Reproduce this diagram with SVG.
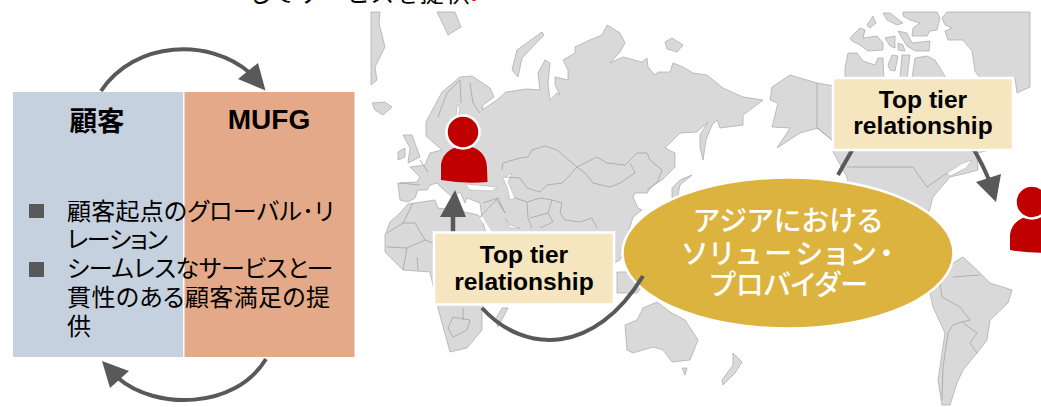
<svg xmlns="http://www.w3.org/2000/svg" width="1041" height="407" viewBox="0 0 1041 407">
<style>
text{font-family:"Liberation Sans","Noto Sans CJK JP",sans-serif}
.land{fill:#d9d9d9;stroke:#a6a6a6;stroke-width:.7;stroke-linejoin:round}
.sea{fill:#fff;stroke:#a6a6a6;stroke-width:.5}
.border{fill:none;stroke:#a3a3a3;stroke-width:.8;stroke-linejoin:round}
.conn{fill:none;stroke:#595959;stroke-width:4}
.head{fill:#595959}
.callout{fill:#f5e6c0;stroke:#fff;stroke-width:2.5}
.ct{font-size:24.6px;font-weight:700;text-anchor:middle;fill:#000}
.jp{font-size:24px;fill:#000;font-feature-settings:"palt"}
.et{font-size:28px;font-weight:500;fill:#fff;text-anchor:middle;font-feature-settings:"palt"}
.bul{fill:#595959}
</style>
<defs>
<g id="person"><path d="M441,180V167C441,154 452,146 464,146C477,146 487,154 487,168L487.500,182Q464,184 441,180Z" fill="#c00000"/><circle cx="463" cy="132" r="16.500" fill="#c00000" stroke="#fff" stroke-width="2.500"/></g>
</defs>
<text id="title" x="250" y="2" class="jp" textLength="220">してサービスを提供</text>
<text x="471" y="1" font-size="22" fill="#ff0000" font-weight="700">.</text>
<g id="map">
<path class="land" d="M398,185 398,183 417,182 420,177 410,167 425,165 430,153 442,150 434,143 426,136 426,122 442,92 460,77 472,76 490,88 494,97 483,105 482,110 497,100 506,92 527,89 540,90 538,73 545,60 550,63 548,83 550,100 557,93 560,95 555,85 555,77 568,80 568,70 563,60 575,53 575,47 590,40 602,35 607,25 620,33 625,43 620,52 610,63 623,57 642,62 647,58 648,67 655,75 658,72 670,72 673,63 683,67 693,73 707,75 723,88 743,97 763,100 750,110 743,115 743,125 720,128 717,120 712,125 706,140 703,160 700,147 700,135 708,122 697,132 680,133 665,148 675,153 675,167 662,180 653,185 647,193 635,193 633,197 638,208 642,210 633,217 628,233 625,250 620,260 600,270 500,250 490,232 482,218 480,203 467,198 465,203 460,192 452,197 442,188 437,183 430,185 427,190 418,190 415,198 408,202 400,200Z"/>
<path class="land" d="M408,204 400,213 390,222 385,235 385,252 403,270 430,272 438,308 442,323 450,352 467,348 482,330 482,308 490,290 500,270 488,240 482,219 478,215 460,211 438,208 435,200Z"/>
<path class="land" d="M498,327 508,308 502,308 495,320Z"/>
<path class="land" d="M617,272 630,272 637,280 642,287 637,293 617,293Z"/>
<path class="land" d="M625,325 637,320 643,308 657,302 670,312 685,320 698,340 690,360 672,362 663,350 653,347 633,353 627,350Z"/>
<path class="land" d="M682,368 687,368 685,375Z"/>
<path class="land" d="M733,353 742,362 735,373 723,385 722,380 733,365Z"/>
<path class="land" d="M672,198 672,188 680,180 692,175 680,185 677,200Z"/>
<path class="land" d="M371,12 380,12 379,23 385,47 375,67 377,80 371,85Z"/>
<path class="land" d="M437,12 455,12 461,27 448,35 442,22Z"/>
<path class="land" d="M372,103 385,102 392,107 383,115 375,110Z"/>
<path class="land" d="M403,135 412,135 420,157 408,163 410,148Z"/>
<path class="land" d="M398,152 405,148 405,157 398,160Z"/>
<path class="land" d="M542,32 544,35 522,58 518,77 512,70 517,50Z"/>
<path class="land" d="M665,42 672,38 683,45 677,52 667,49Z"/>
<path class="land" d="M772,87 790,75 817,83 840,87 840,150 832,140 818,128 800,133 777,148 790,128 772,127 778,103 770,100Z"/>
<path class="land" d="M832,150 990,150 977,153 978,170 967,173 950,177 933,197 930,208 920,240 860,240 847,177Z"/>
<path class="sea" d="M947,173 963,163 972,160 966,168 950,176Z"/>
<path class="land" d="M930,293 940,283 953,263 963,257 977,270 990,283 1012,290 1008,303 990,320 987,340 977,353 963,370 957,383 950,405 942,405 938,380 945,333 933,307Z"/>
<path class="land" d="M975,71 980,78 1015,78 1017,93 1030,87 1030,12 947,12 942,18 945,25 952,28 945,31 948,40 963,40 972,51Z"/>
<path class="land" d="M850,38 860,28 865,30 863,38 877,36 883,43 883,50 868,51 860,45 852,41Z"/>
<path class="land" d="M867,25 873,16 876,23 870,28Z"/>
<path class="land" d="M883,13 890,13 903,23 897,25 887,20Z"/>
<path class="land" d="M885,38 895,36 895,48 890,46Z"/>
<path class="land" d="M898,31 907,33 912,43 930,41 929,51 915,51 907,46 902,38Z"/>
<path class="land" d="M898,43 903,45 905,51 898,50Z"/>
<path class="land" d="M903,12 937,12 940,18 937,30 930,31 927,36 912,36 913,28 920,23 910,20 903,16Z"/>
<path class="land" d="M845,68 848,53 857,53 863,61 875,65 878,58 883,58 884,82 845,82Z"/>
<path class="land" d="M888,65 892,55 898,56 895,71 890,70Z"/>
<path class="land" d="M900,78 902,55 910,55 907,78Z"/>
<path class="land" d="M912,78 915,58 927,56 935,60 943,73 946,78Z"/>
<path class="sea" d="M457,105 460,107 458,118 456,118Z"/>
<path class="sea" d="M465,184 487,186 497,187 492,191 470,190Z"/>
<path class="sea" d="M503,178 512,173 508,182 515,198 510,200 507,187Z"/>
<path class="sea" d="M505,218 510,225 520,228 510,228Z"/>
<path d="M481,217 490,232" stroke="#fff" stroke-width="2.500" fill="none"/>
<path class="border" d="M502,170 503,163 520,158 528,157 532,150 545,146 557,150 577,167 597,157 607,163 625,165 637,153 647,153 650,160 662,170 657,183 647,190M577,167 585,173 593,183 610,187 620,183 635,173 630,163M577,167 570,175 562,183 547,185 540,192 527,188 520,178 505,177M515,198 527,202 528,218 532,228M527,202 540,198 552,200 548,213 530,218M552,200 562,203 560,213 565,220 580,222 592,218 597,228M548,213 553,222 540,228M497,200 505,213M483,203 498,198 505,213M480,217 498,198M400,183 420,185M420,160 428,172M438,117 447,93 460,80 461,103M470,83 473,103 480,113M387,233 403,223 413,203M403,223 415,223 425,240 407,248 387,247M407,248 403,270M425,240 433,243M417,257 418,270M453,317 470,320 467,330 453,337 448,328 453,317M463,308 463,320M940,283 942,297 960,307 970,320 962,322 953,325 948,333 943,367 942,400M962,322 977,333 970,343 977,353M953,277 980,275M847,167 913,167 927,187 947,173M817,83 817,128 832,140"/>
</g>
<g id="customer"><rect x="13" y="92" width="170" height="265" fill="#c5d1de"/><text x="97" y="131" font-size="27.500" font-weight="700" text-anchor="middle">顧客</text></g>
<g id="mufg"><rect x="184.500" y="92" width="170" height="265" fill="#e4a988"/><text x="269" y="129" font-size="28" font-weight="700" text-anchor="middle">MUFG</text></g>
<g id="list">
<rect class="bul" x="29" y="204" width="15" height="14"/>
<rect class="bul" x="29" y="262" width="15" height="15"/>
<text class="jp" x="67" y="220" textLength="267">顧客起点のグローバル･リ</text>
<text class="jp" x="67" y="248" textLength="101">レーション</text>
<text class="jp" x="67" y="277" textLength="265">シームレスなサービスと一</text>
<text class="jp" x="67" y="306" textLength="263">貫性のある顧客満足の提</text>
<text class="jp" x="67" y="335">供</text>
</g>
<g id="solution"><ellipse cx="788" cy="253" rx="165.500" ry="75.500" fill="#ddb33f" stroke="#fff" stroke-width="2.500"/>
<text class="et" x="788" y="231" textLength="189">アジアにおける</text><text class="et" x="788" y="264" textLength="211">ソリューション・</text><text class="et" x="789" y="295" textLength="158">プロバイダー</text></g>
<g id="connectors">
<path class="conn" d="M101,91C135,40 210,38 250,73"/><path class="head" d="M265.500,90.500 258,63 238,79Z"/>
<path class="conn" d="M266,359C235,410 155,410 118,378"/><path class="head" d="M102,361 129,371 110,388Z"/>
<path class="conn" d="M643,276C595,355 525,355 482,308"/>
<path class="conn" style="stroke-width:4.500" d="M453,240V215"/><path class="head" d="M455,190 440,217 466,217Z"/>
<path class="conn" d="M838,175 855,145M973,148C980,160 985,170 989,180"/><path class="head" d="M1001,174 996,202 976,182Z"/>
</g>
<g id="callout-left"><rect class="callout" x="434" y="232.500" width="180" height="72"/><text class="ct" x="524" y="263">Top tier</text><text class="ct" x="524" y="289.500">relationship</text></g>
<g id="callout-right"><rect class="callout" x="833" y="78" width="180" height="72"/><text class="ct" x="923" y="108">Top tier</text><text class="ct" x="923" y="134">relationship</text></g>
<use id="person-left" href="#person"/>
<use id="person-right" href="#person" x="569" y="70"/>
</svg>
